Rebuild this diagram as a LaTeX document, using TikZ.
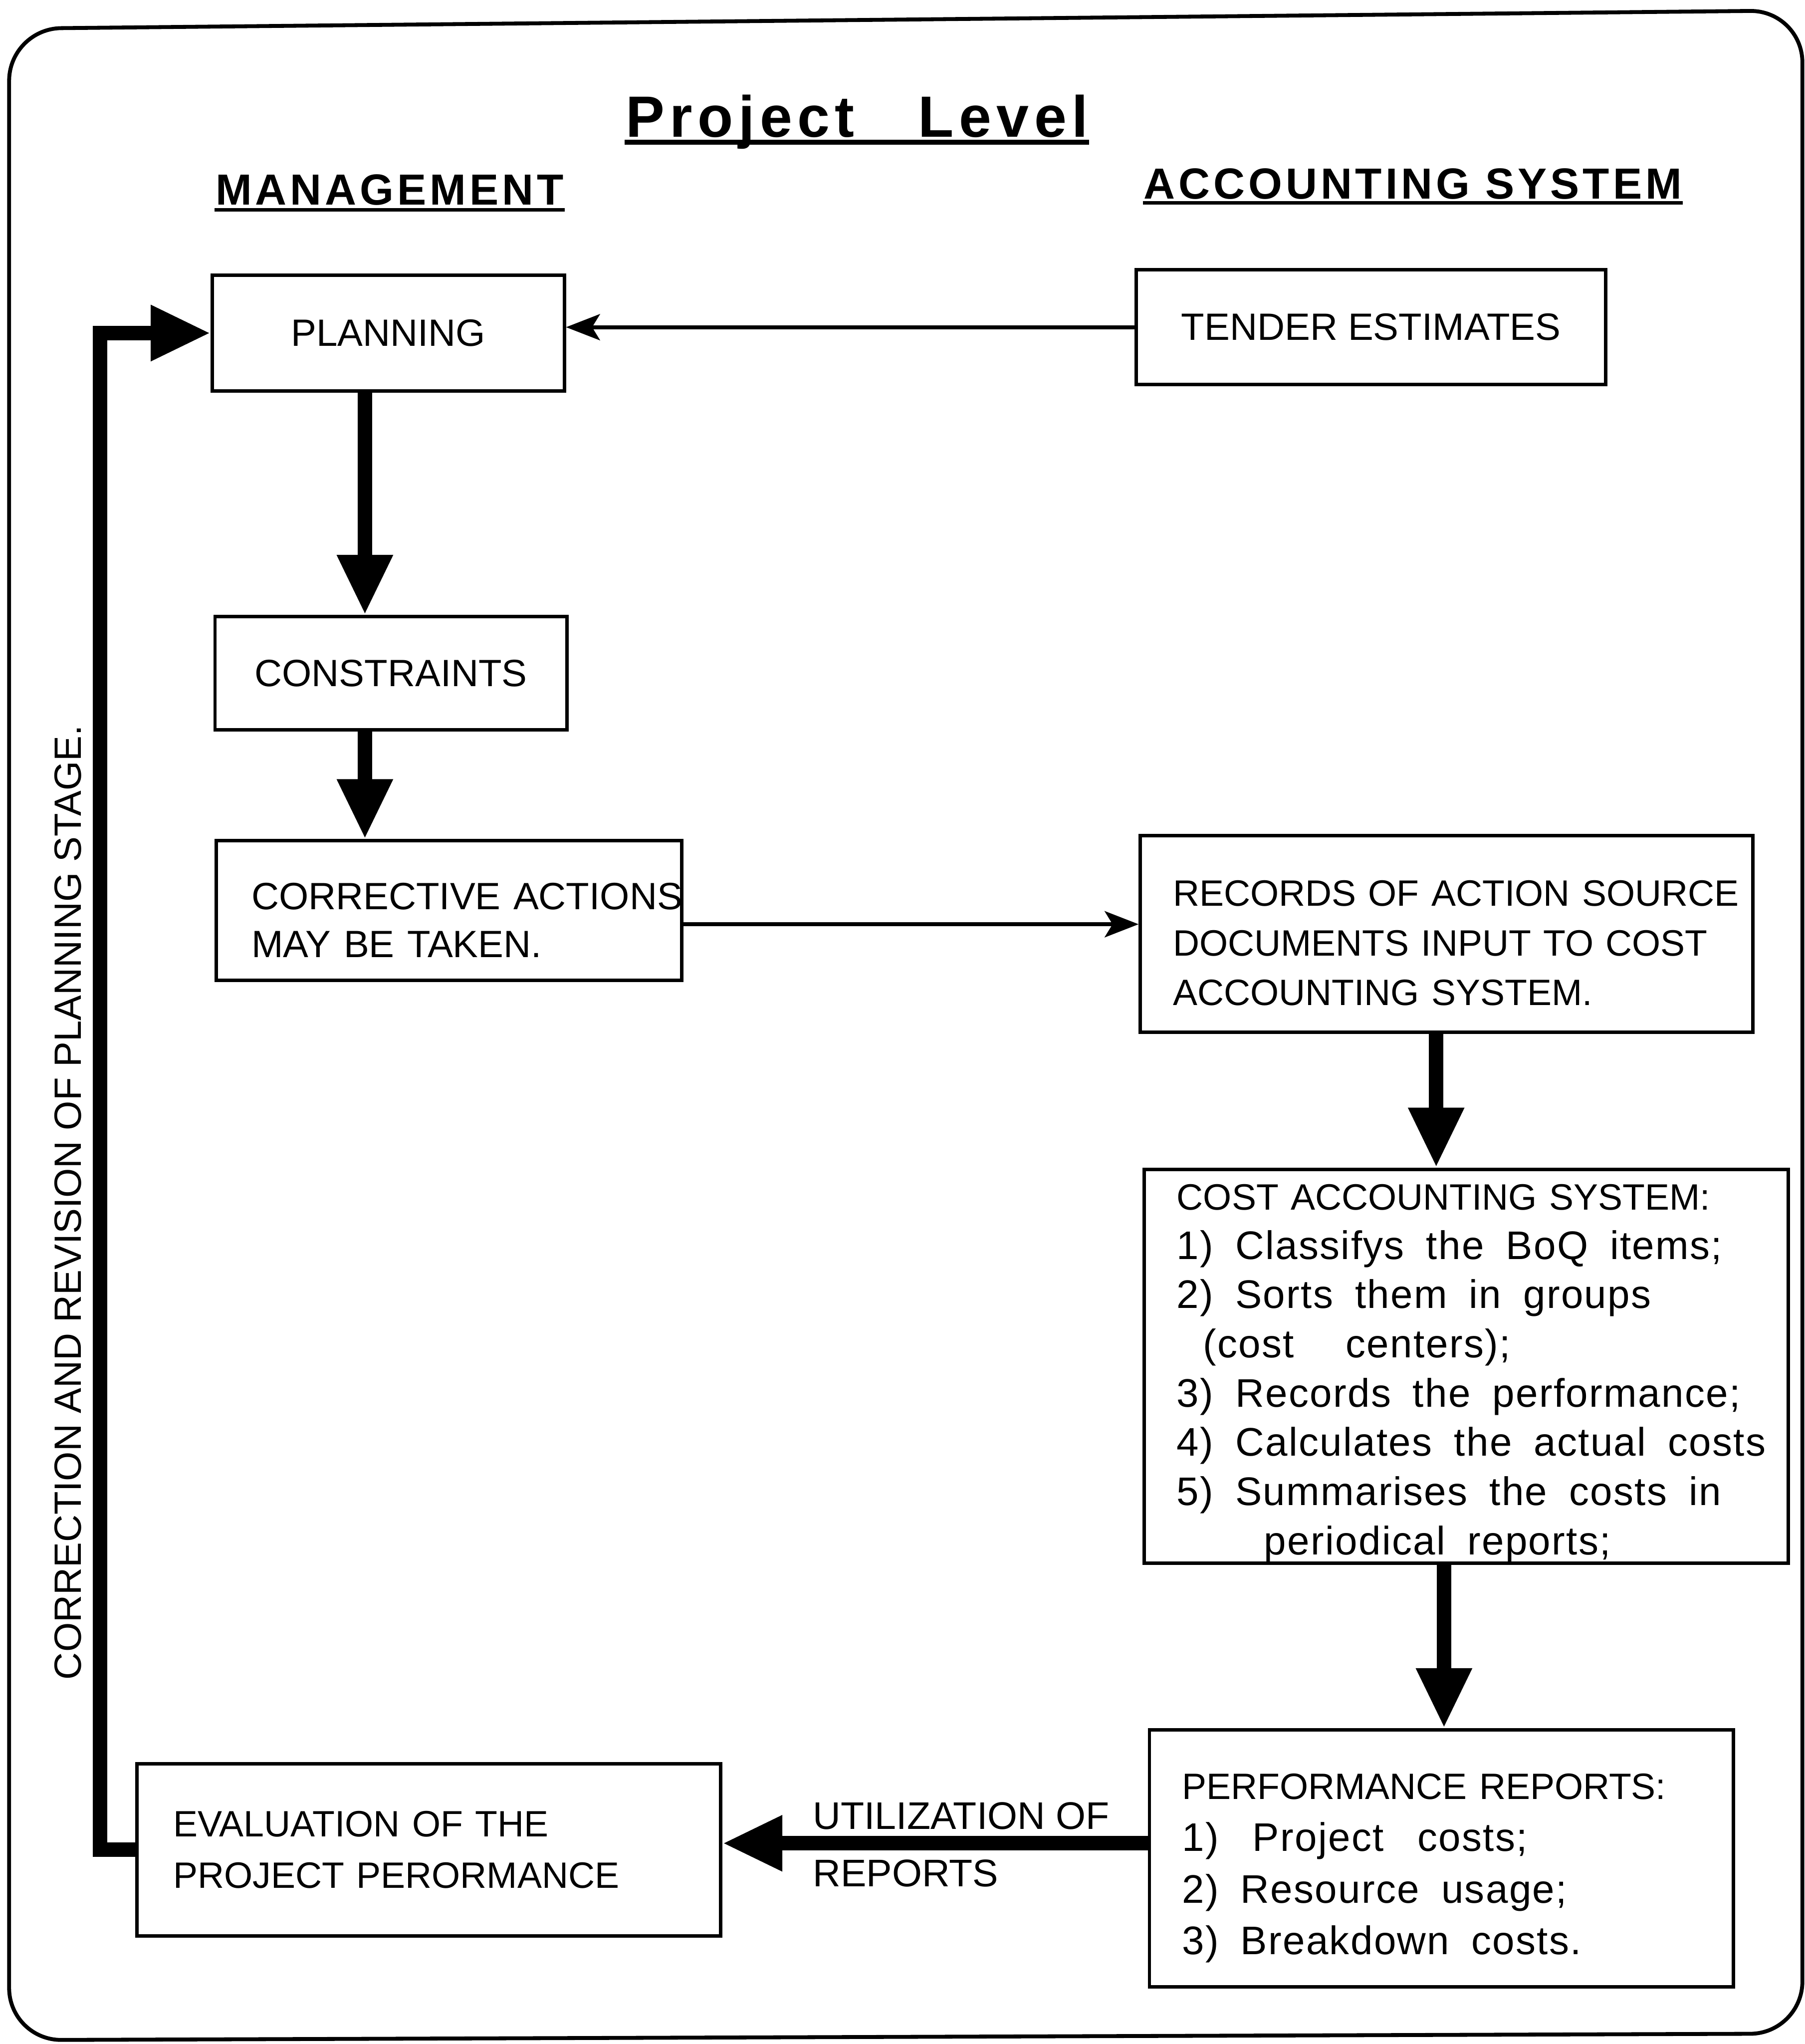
\documentclass[tikz,border=0pt]{standalone}
\usepackage{fontspec}
\setmainfont{Liberation Sans}
\newfontfamily\titlefont[LetterSpace=9]{Liberation Sans}
\newfontfamily\headfont[LetterSpace=8]{Liberation Sans}
\newfontfamily\listfont[LetterSpace=3]{Liberation Sans}
\usepackage{tikz}
\usetikzlibrary{arrows.meta,positioning,calc}

\newcommand{\lstline}[1]{\mbox{\listfont\fontsize{8.7}{10.8}\selectfont\spaceskip=0.55em\relax #1}}
\newcommand{\topgap}[1]{\rule{0pt}{#1}}

\begin{document}
\begin{tikzpicture}[>=Stealth,
  box/.style={draw,line width=0.75pt,inner sep=0pt,font=\fontsize{8.3}{10.8}\selectfont},
  txtbox/.style={box,align=left,inner xsep=2.5mm},
  heavy/.style={line width=1.1mm,-{Triangle[length=4.6mm,width=4mm]}},
  thin/.style={line width=0.85pt,-{Stealth[length=2.6mm,width=2mm,inset=0.6mm]}},
  heading/.style={inner sep=0pt,anchor=base,font=\fontsize{9.5}{11}\headfont\bfseries},
  uline/.style={line width=0.8pt},
  lbl/.style={inner sep=0pt,font=\fontsize{8.3}{10}\selectfont}]
\useasboundingbox (0,0) rectangle (13.85,-15.68);
% outer frame
\draw[line width=0.85pt,rounded corners=4mm] (0.07,-15.65) -- (0.07,-0.22) -- (13.83,-0.08) -- (13.83,-15.60) -- cycle;

% headings
\node[heading,font=\fontsize{12.7}{15}\titlefont\bfseries] (title) at (6.575,-1.05) {Project\hspace{1.1em}Level};
\draw[uline,line width=1.1pt] ([yshift=-0.4mm]title.base west) -- ([yshift=-0.4mm]title.base east);
\node[heading] (mgmt) at (2.99,-1.57) {MANAGEMENT};
\draw[uline] ([yshift=-0.4mm]mgmt.base west) -- ([yshift=-0.4mm]mgmt.base east);
\node[heading] (acct) at (10.84,-1.525) {ACCOUNTING SYSTEM};
\draw[uline] ([yshift=-0.3mm]acct.base west) -- ([yshift=-0.3mm]acct.base east);

% management side
\node[box,minimum width=2.70cm,minimum height=0.89cm] (plan) at (2.98,-2.555) {PLANNING};
\node[box,minimum width=2.70cm,minimum height=0.87cm] (constr) at (3.00,-5.165) {CONSTRAINTS};
\node[txtbox,text width=3.03cm,inner xsep=2.7mm,minimum height=1.07cm,font=\fontsize{8.3}{10.5}\selectfont] (correct) at (3.445,-6.985) {\topgap{3.5mm}\mbox{CORRECTIVE ACTIONS}\\MAY BE TAKEN.};
\node[txtbox,text width=3.92cm,inner xsep=2.8mm,minimum height=1.32cm,font=\fontsize{8}{11.3}\selectfont] (eval) at (3.29,-14.19) {\mbox{EVALUATION OF THE}\\\mbox{PROJECT PERORMANCE}};

% accounting side
\node[box,minimum width=3.60cm,minimum height=0.88cm] (tender) at (10.52,-2.51) {TENDER ESTIMATES};
\node[txtbox,text width=4.20cm,minimum height=1.51cm,font=\fontsize{8}{10.8}\selectfont] (records) at (11.10,-7.165) {\topgap{3.35mm}\mbox{RECORDS OF ACTION SOURCE}\\\mbox{DOCUMENTS INPUT TO COST}\\\mbox{ACCOUNTING SYSTEM.}};
\node[txtbox,text width=4.44cm,minimum height=3.02cm,font=\fontsize{8}{10.75}\selectfont] (costsys) at (11.25,-10.48) {\topgap{3.1mm}COST ACCOUNTING SYSTEM:\\
  \lstline{1) Classifys the BoQ items;}\\
  \lstline{2) Sorts them in groups}\\
  \lstline{\hspace*{2mm}(cost\hspace{1.3em}centers);}\\
  \lstline{3) Records the performance;}\\
  \lstline{4) Calculates the actual costs}\\
  \lstline{5) Summarises the costs in}\\
  \lstline{\hspace*{6.7mm}periodical reports;}};
\node[txtbox,text width=3.98cm,minimum height=1.97cm,font=\fontsize{8}{11.3}\selectfont] (perf) at (11.06,-14.255) {\topgap{3.5mm}PERFORMANCE REPORTS:\\
  \lstline{1)\hspace{0.85em}Project\hspace{0.85em}costs;}\\
  \lstline{2) Resource usage;}\\
  \lstline{3) Breakdown costs.}};

% labels
\node[lbl,align=left,font=\fontsize{8.4}{12.5}\selectfont] (util) at (7.375,-14.15) {UTILIZATION OF\\REPORTS};
\node[lbl,rotate=90] (corrlbl) at (0.52,-9.225) {CORRECTION AND REVISION OF PLANNING STAGE.};

% connectors
\draw[thin] (tender.west) -- (tender.west -| plan.east);
\draw[heavy] ([xshift=-1.8mm]plan.south) -- ([xshift=-1.8mm]plan.south |- constr.north);
\draw[heavy] ([xshift=-2mm]constr.south) -- ([xshift=-2mm]constr.south |- correct.north);
\draw[thin] ([yshift=-1.05mm]correct.east) -- ([yshift=-1.05mm]correct.east -| records.west);
\draw[heavy] ([xshift=-0.8mm]records.south) -- ([xshift=-0.8mm]records.south |- costsys.north);
\draw[heavy] ([xshift=-1.7mm]costsys.south) -- ([xshift=-1.7mm]costsys.south |- perf.north);
\draw[heavy] ([yshift=1.15mm]perf.west) -- ([yshift=1.15mm]perf.west -| eval.east);
\draw[heavy] (eval.west) -- ++(-0.27,0) |- (plan.west);
\end{tikzpicture}
\end{document}
